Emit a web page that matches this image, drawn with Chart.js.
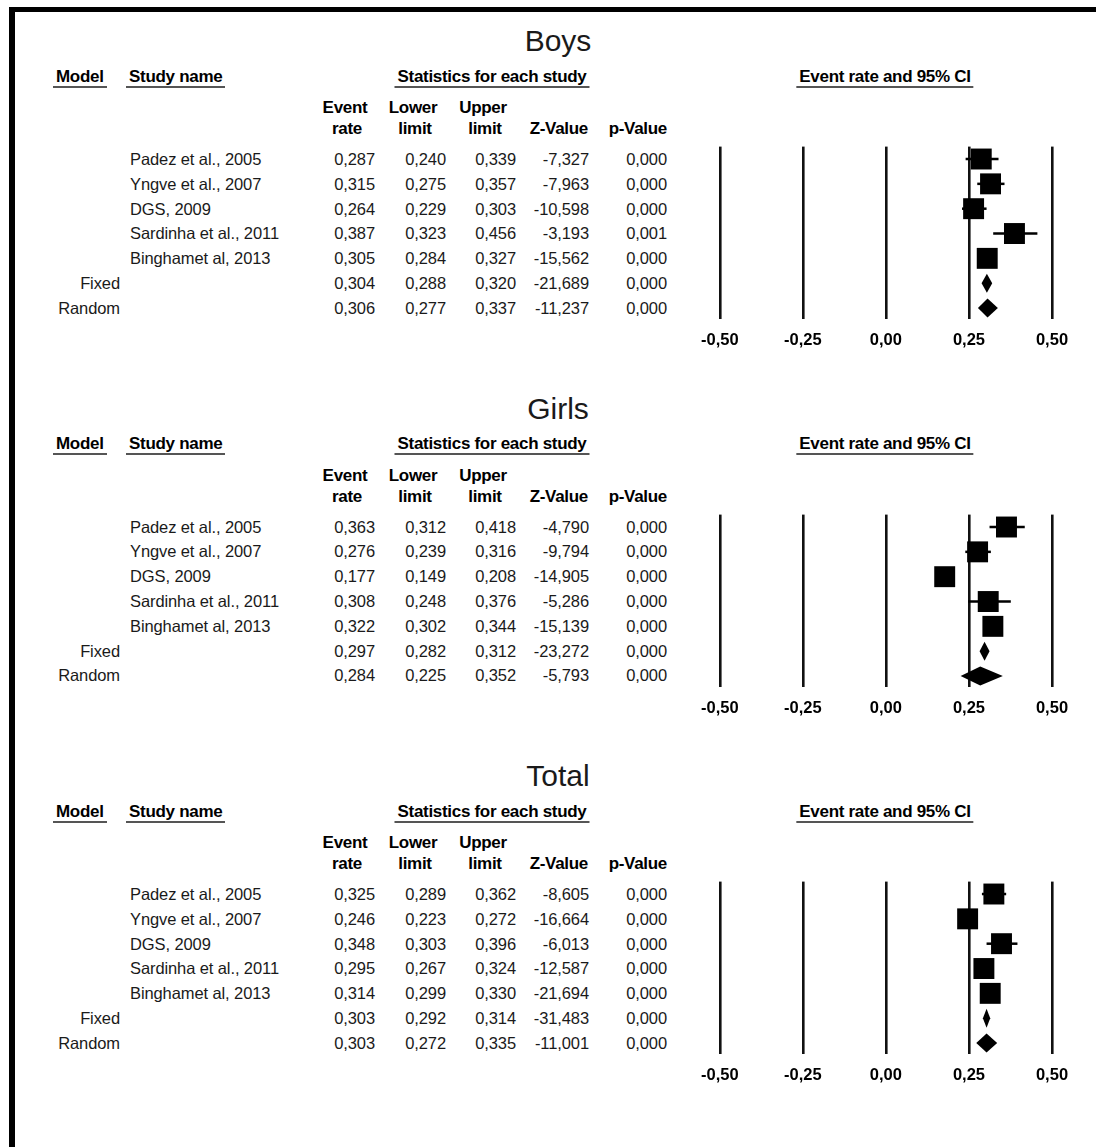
<!DOCTYPE html>
<html>
<head>
<meta charset="utf-8">
<script src="https://cdn.jsdelivr.net/npm/chart.js@4.4.0/dist/chart.umd.min.js"></script>
<style>
  body { margin: 0; background: #fff; width: 1096px; height: 1147px; position: relative; overflow: hidden;
         font-family: "Liberation Sans", Arial, sans-serif; color: #1a1a1a; }
  #frame { position: absolute; left: 9px; top: 7px; width: 1200px; height: 1200px;
           border-top: 5px solid #000; border-left: 6px solid #000; }
  .t { position: absolute; white-space: nowrap; line-height: 1; font-size: 16.5px; letter-spacing: -0.1px; }
  .b { font-weight: bold; color: #000; font-size: 17px; letter-spacing: -0.3px; }
  .title { font-size: 30px; letter-spacing: 0; }
  .u { border-bottom: 2px solid #555; padding: 0 3px 1px 3px; }
  canvas { position: absolute; }
</style>
</head>
<body>
<div id="frame"></div>
<script>
// study rows, then the two pooled models
const studyNames = ['Padez et al., 2005', 'Yngve et al., 2007', 'DGS, 2009', 'Sardinha et al., 2011', 'Binghamet al, 2013'];
const modelNames = ['Fixed', 'Random'];
const panelTitles = ['Boys', 'Girls', 'Total'];
const axisTicks = [-0.5, -0.25, 0, 0.25, 0.5];

const boysRate  = [0.287, 0.315, 0.264, 0.387, 0.305, 0.304, 0.306];
const boysLower = [0.240, 0.275, 0.229, 0.323, 0.284, 0.288, 0.277];
const boysUpper = [0.339, 0.357, 0.303, 0.456, 0.327, 0.320, 0.337];
const boysZ     = [-7.327, -7.963, -10.598, -3.193, -15.562, -21.689, -11.237];
const boysP     = [0.000, 0.000, 0.000, 0.001, 0.000, 0.000, 0.000];

const girlsRate  = [0.363, 0.276, 0.177, 0.308, 0.322, 0.297, 0.284];
const girlsLower = [0.312, 0.239, 0.149, 0.248, 0.302, 0.282, 0.225];
const girlsUpper = [0.418, 0.316, 0.208, 0.376, 0.344, 0.312, 0.352];
const girlsZ     = [-4.790, -9.794, -14.905, -5.286, -15.139, -23.272, -5.793];
const girlsP     = [0.000, 0.000, 0.000, 0.000, 0.000, 0.000, 0.000];

const totalRate  = [0.325, 0.246, 0.348, 0.295, 0.314, 0.303, 0.303];
const totalLower = [0.289, 0.223, 0.303, 0.267, 0.299, 0.292, 0.272];
const totalUpper = [0.362, 0.272, 0.396, 0.324, 0.330, 0.314, 0.335];
const totalZ     = [-8.605, -16.664, -6.013, -12.587, -21.694, -31.483, -11.001];
const totalP     = [0.000, 0.000, 0.000, 0.000, 0.000, 0.000, 0.000];

const panels = [
  { rate: boysRate,  lower: boysLower,  upper: boysUpper,  z: boysZ,  p: boysP },
  { rate: girlsRate, lower: girlsLower, upper: girlsUpper, z: girlsZ, p: girlsP },
  { rate: totalRate, lower: totalLower, upper: totalUpper, z: totalZ, p: totalP }
];

const PANEL_STEP = 367.5;
const ROW_Y0 = 159, ROW_H = 24.83;

const comma = (v, d) => v.toFixed(d).replace('.', ',');

function place(text, x, y, align, cls) {
  const el = document.createElement('div');
  el.className = 't ' + (cls || '');
  el.textContent = text;
  el.style.left = x + 'px';
  el.style.top = y + 'px';
  const tx = align === 'right' ? '-100%' : align === 'center' ? '-50%' : '0';
  el.style.transform = `translate(${tx}, -50%)`;
  document.body.appendChild(el);
  return el;
}

// diamonds for the pooled rows, drawn through the chart scales
const diamondPlugin = {
  id: 'diamonds',
  afterDatasetsDraw(chart) {
    const { ctx, scales: { x, y } } = chart;
    const d = chart.options.plugins.diamonds;
    ctx.save();
    ctx.fillStyle = '#000';
    d.rows.forEach(i => {
      const cy = y.getPixelForValue(i);
      ctx.beginPath();
      ctx.moveTo(x.getPixelForValue(d.lower[i]), cy);
      ctx.lineTo(x.getPixelForValue(d.rate[i]), cy - 9.5);
      ctx.lineTo(x.getPixelForValue(d.upper[i]), cy);
      ctx.lineTo(x.getPixelForValue(d.rate[i]), cy + 9.5);
      ctx.closePath();
      ctx.fill();
    });
    ctx.restore();
  }
};

function makeForest(panel, top) {
  const cv = document.createElement('canvas');
  cv.width = 406; cv.height = 240;
  cv.style.left = '690px';
  cv.style.top = top + 'px';
  document.body.appendChild(cv);

  const nStudies = studyNames.length;
  const datasets = [{
    data: studyNames.map((_, i) => ({ x: panel.rate[i], y: i })),
    pointStyle: 'rect',
    pointRadius: 14.8,
    backgroundColor: '#000',
    borderWidth: 0,
    clip: false
  }];
  for (let i = 0; i < nStudies; i++) {
    datasets.push({
      data: [{ x: panel.lower[i], y: i }, { x: panel.upper[i], y: i }],
      showLine: true,
      borderColor: '#000',
      borderWidth: 2.5,
      pointRadius: 0,
      clip: false
    });
  }

  new Chart(cv.getContext('2d'), {
    type: 'scatter',
    data: { datasets },
    plugins: [diamondPlugin],
    options: {
      responsive: false,
      animation: false,
      layout: { padding: { left: 29, right: 44, top: 26.6, bottom: 10.8 } },
      plugins: {
        legend: { display: false },
        tooltip: { enabled: false },
        diamonds: { rows: [nStudies, nStudies + 1], rate: panel.rate, lower: panel.lower, upper: panel.upper }
      },
      scales: {
        x: {
          type: 'linear', min: -0.5, max: 0.5,
          afterBuildTicks: s => { s.ticks = axisTicks.map(v => ({ value: v })); },
          afterFit: s => { s.height = 30; },
          ticks: {
            padding: 11, color: '#000', autoSkip: false, maxRotation: 0,
            font: { family: 'Liberation Sans', size: 16.5, weight: 'bold' },
            callback: v => comma(v, 2)
          },
          grid: { color: '#111', lineWidth: 2.6, drawTicks: false },
          border: { display: false }
        },
        y: { type: 'linear', min: -0.5, max: 6.45, reverse: true, display: false }
      }
    }
  });
}

panels.forEach((panel, k) => {
  const off = k * PANEL_STEP;
  place(panelTitles[k], 558, 41 + off, 'center', 'title');

  place('Model', 53, 77.5 + off, 'left', 'b u');
  place('Study name', 126, 77.5 + off, 'left', 'b u');
  place('Statistics for each study', 492, 77.5 + off, 'center', 'b u');
  place('Event rate and 95% CI', 885, 77.5 + off, 'center', 'b u');

  place('Event', 345, 107 + off, 'center', 'b');
  place('rate', 347, 128 + off, 'center', 'b');
  place('Lower', 413, 107 + off, 'center', 'b');
  place('limit', 415, 128 + off, 'center', 'b');
  place('Upper', 483, 107 + off, 'center', 'b');
  place('limit', 485, 128 + off, 'center', 'b');
  place('Z-Value', 588, 128 + off, 'right', 'b');
  place('p-Value', 667, 128 + off, 'right', 'b');

  panel.rate.forEach((r, i) => {
    const y = ROW_Y0 + i * ROW_H + off;
    if (i < studyNames.length) place(studyNames[i], 130, y, 'left');
    else place(modelNames[i - studyNames.length], 120, y, 'right');
    place(comma(r, 3), 375, y, 'right');
    place(comma(panel.lower[i], 3), 446, y, 'right');
    place(comma(panel.upper[i], 3), 516, y, 'right');
    place(comma(panel.z[i], 3), 589, y, 'right');
    place(comma(panel.p[i], 3), 667, y, 'right');
  });

  makeForest(panel, 120 + off);
});
</script>
</body>
</html>
